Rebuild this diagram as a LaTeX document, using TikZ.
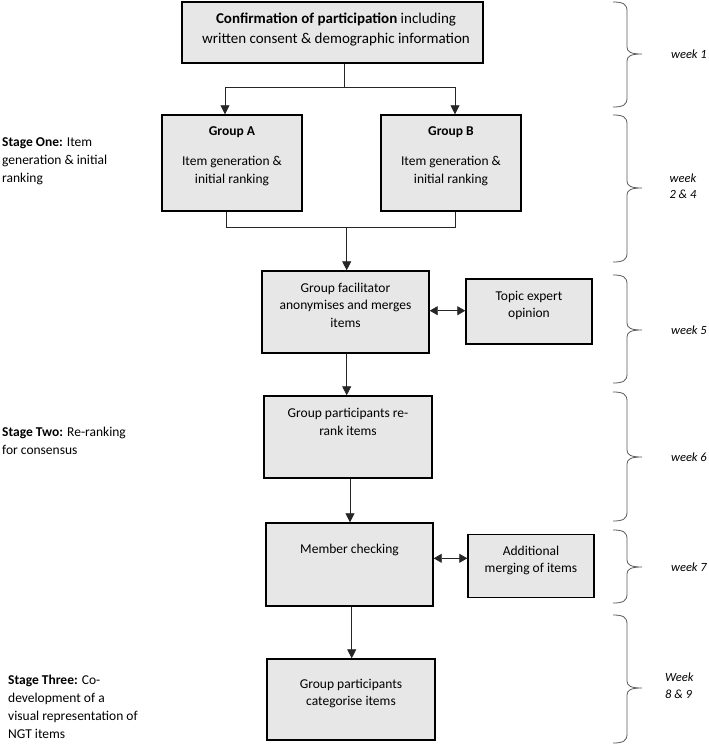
\documentclass[tikz,border=0pt]{standalone}
\usepackage{fontspec}
\setmainfont{Carlito}
\usetikzlibrary{arrows.meta}
\definecolor{boxgray}{HTML}{E7E7E7}
\newcommand{\wkbrace}[4]{%
  \draw[wk] (613,#1) .. controls (623,#1) and (627,#1+2) .. (627,#1+9)
    -- (627,#2-7) .. controls (627,#2-2) and (631,#2) .. (642,#2)
    .. controls (631,#2) and (627,#2+2) .. (627,#2+7)
    -- (627,#3-9) .. controls (627,#3-2) and (623,#3) .. (613,#3)
    coordinate (#4);}
\begin{document}
\begin{tikzpicture}[x=1pt,y=-1pt,
  box/.style={draw=black, line width=1.4pt, fill=boxgray, inner sep=0pt},
  txt/.style={align=center, font=\fontsize{13.5}{17.5}\selectfont, inner sep=0pt},
  conn/.style={draw=black!85, line width=0.8pt},
  arr/.style={conn,-{Triangle[length=9pt,width=9pt]}},
  dbl/.style={conn,{Triangle[length=8pt,width=9pt]}-{Triangle[length=8pt,width=9pt]}},
  wk/.style={draw=black!65, line width=0.8pt},
  wtxt/.style={font=\itshape\fontsize{12.5}{16.5}\selectfont, align=center, inner sep=0pt},
  stg/.style={font=\fontsize{13.5}{18}\selectfont, align=left, anchor=west, inner sep=0pt}]
\useasboundingbox (0,0) rectangle (709,745);

% boxes
\node[box, minimum width=301pt, minimum height=61pt] (top) at (332.5,32.5) {};
\node[txt, font=\fontsize{15}{20}\selectfont] (topT) at (336,30) {\textbf{Confirmation of participation} including\\written consent \& demographic information};

\node[box, minimum width=140pt, minimum height=96pt] (ga) at (232,163) {};
\node[txt] (gaT) at (232,156) {\textbf{Group A}\\[13pt]Item generation \&\\initial ranking};
\node[box, minimum width=140pt, minimum height=96pt] (gb) at (451,163) {};
\node[txt] (gbT) at (451,156) {\textbf{Group B}\\[13pt]Item generation \&\\initial ranking};

\node[box, minimum width=167pt, minimum height=82pt] (fac) at (345.5,312) {};
\node[txt] (facT) at (345.5,305) {Group facilitator\\anonymises and merges\\items};
\node[box, minimum width=126pt, minimum height=65pt] (topic) at (529,311.5) {};
\node[txt] (topicT) at (529,305.5) {Topic expert\\opinion};

\node[box, minimum width=168pt, minimum height=82pt] (rerank) at (348,437) {};
\node[txt] (rerankT) at (348,422) {Group participants re-\\rank items};

\node[box, minimum width=167pt, minimum height=83pt] (member) at (349.5,564.5) {};
\node[txt] (memberT) at (349.5,550) {Member checking};
\node[box, minimum width=126pt, minimum height=63pt] (add) at (531,565.7) {};
\node[txt] (addT) at (531,560.5) {Additional\\merging of items};

\node[box, minimum width=168pt, minimum height=81pt] (cat) at (351,699.5) {};
\node[txt] (catT) at (351,693.5) {Group participants\\categorise items};

% connectors
\coordinate (j1) at (344,87);
\coordinate (ja) at (225,87);
\coordinate (jb) at (455,87);
\draw[conn] (top.south -| j1) -- (j1);
\draw[arr] (j1) -- (ja) -- (ga.north -| ja);
\draw[arr] (j1) -- (jb) -- (gb.north -| jb);

\coordinate (ka) at (226.7,227);
\coordinate (kb) at (455,227);
\coordinate (km) at (346.7,227);
\draw[conn] (ga.south -| ka) -- (ka) -- (kb) -- (gb.south -| kb);
\draw[arr] (km) -- (fac.north -| km);

\draw[dbl] (fac.east |- 0,310.7) -- (topic.west |- 0,310.7);
\coordinate (f1) at (346.7,0);
\draw[arr] (fac.south -| f1) -- (rerank.north -| f1);
\coordinate (r1) at (350,0);
\draw[arr] (rerank.south -| r1) -- (member.north -| r1);
\draw[dbl] (member.east |- 0,558.3) -- (add.west |- 0,558.3);
\coordinate (m1) at (351.7,0);
\draw[arr] (member.south -| m1) -- (cat.north -| m1);

% stage labels
\node[stg] (s1) at (2,161.5) {\textbf{Stage One:} Item\\generation \& initial\\ranking};
\node[stg] (s2) at (2,441) {\textbf{Stage Two:} Re-ranking\\for consensus};
\node[stg] (s3) at (8,707) {\textbf{Stage Three:} Co-\\development of a\\visual representation of\\NGT items};

% braces
\wkbrace{2}{54}{107}{b1}
\node[wtxt, anchor=east] (w1) at (707,54) {week 1};
\wkbrace{115}{188}{262}{b2}
\node[wtxt] (w2) at (683,186) {week\\2 \& 4};
\wkbrace{275}{330}{383}{b3}
\node[wtxt, anchor=east] (w3) at (707,330) {week 5};
\wkbrace{392}{457}{521}{b4}
\node[wtxt, anchor=east] (w4) at (707,457) {week 6};
\wkbrace{530}{567}{603}{b5}
\node[wtxt, anchor=east] (w5) at (707,567) {week 7};
\wkbrace{615}{688}{743}{b6}
\node[wtxt, align=left, anchor=west] (w6) at (665,685.5) {Week\\8 \& 9};
\end{tikzpicture}
\end{document}
